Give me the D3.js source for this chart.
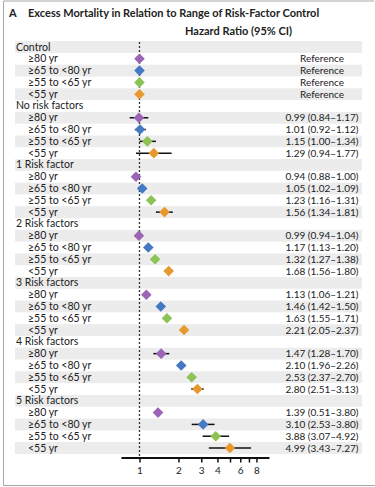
<!DOCTYPE html>
<html>
<head>
  <meta charset="utf-8">
  <title>Excess Mortality</title>
  <style>
    body { margin: 0; background: #fff; }
    svg text { font-family: Lato, "Noto Sans", sans-serif; fill: #222; }
  </style>
</head>
<body>
  <div class="area"></div>

  <script src="https://cdn.jsdelivr.net/npm/d3@7"></script>
  <script type="text/javascript">

  var w = 375, h = 487;

  var groups = ['Control', 'No risk factors', '1 Risk factor', '2 Risk factors',
                '3 Risk factors', '4 Risk factors', '5 Risk factors'];
  var ages = ['\u226580 yr', '\u226565 to <80 yr', '\u226555 to <65 yr', '<55 yr'];
  var ageColors = ['#9c64b4', '#4679c3', '#8cc354', '#e8992d'];

  // hazard ratio and 95% CI, one row per group, one column per age band
  var hr = [[1, 1, 1, 1],
            [0.99, 1.01, 1.15, 1.29],
            [0.94, 1.05, 1.23, 1.56],
            [0.99, 1.17, 1.32, 1.68],
            [1.13, 1.46, 1.63, 2.21],
            [1.47, 2.10, 2.53, 2.80],
            [1.39, 3.10, 3.88, 4.99]];
  var lo = [[null, null, null, null],
            [0.84, 0.92, 1.00, 0.94],
            [0.88, 1.02, 1.16, 1.34],
            [0.94, 1.13, 1.27, 1.56],
            [1.06, 1.42, 1.55, 2.05],
            [1.28, 1.96, 2.37, 2.51],
            [0.51, 2.53, 3.07, 3.43]];
  var hi = [[null, null, null, null],
            [1.17, 1.12, 1.34, 1.77],
            [1.00, 1.09, 1.31, 1.81],
            [1.04, 1.20, 1.38, 1.80],
            [1.21, 1.50, 1.71, 2.37],
            [1.70, 2.26, 2.70, 3.13],
            [3.80, 3.80, 4.92, 7.27]];

  var tickValues = [1, 2, 3, 4, 5, 6, 7, 8];
  var tickLabels = ['1', '2', '3', '4', '', '6', '', '8'];

  // flatten into rows: a header row per group then its four age rows
  var rows = [];
  groups.forEach(function(g, gi){
    rows.push({type: 'group', label: g});
    ages.forEach(function(a, ai){
      rows.push({type: 'age', label: a, hr: hr[gi][ai], lo: lo[gi][ai], hi: hi[gi][ai],
        color: ageColors[ai], ref: gi === 0});
    });
  });
  rows.forEach(function(r, i){ r.i = i; });

  var svg = d3.select('.area')
    .append('svg')
    .attr('width', w)
    .attr('height', h);

  var x = d3.scaleLog().domain([0.72, 10]).range([121, 269]);
  var y = d3.scaleLinear().domain([0, rows.length - 1]).range([47, 448]);
  var rowH = y(1) - y(0);

  // frame
  svg.append('path')
    .attr('d', 'M' + 374 + ',1H3.5V485.5H375')
    .attr('fill', 'none')
    .attr('stroke', '#a8a8a8')
    .attr('stroke-width', 1);

  // title
  svg.append('text').attr('x', 9).attr('y', 17)
    .style('font-weight', 'bold').style('font-size', '11px')
    .text('A');
  svg.append('text').attr('x', 28).attr('y', 17)
    .style('font-weight', 'bold').style('font-size', '11px')
    .text('Excess Mortality in Relation to Range of Risk-Factor Control');
  svg.append('text').attr('x', 185).attr('y', 35)
    .style('font-weight', 'bold').style('font-size', '11px')
    .text('Hazard Ratio (95% CI)');

  // stripes
  svg.selectAll('rect.stripe')
    .data(rows.filter(function(r){ return r.i % 2 === 0; }))
    .enter().append('rect')
    .attr('class', 'stripe')
    .attr('x', 15).attr('width', 347)
    .attr('y', function(r){ return y(r.i) - rowH / 2; })
    .attr('height', rowH)
    .attr('fill', '#ececec');

  // labels
  svg.selectAll('text.lab')
    .data(rows)
    .enter().append('text')
    .attr('class', 'lab')
    .attr('x', function(r){ return r.type === 'group' ? 16 : 28; })
    .attr('y', function(r){ return y(r.i) + 3.5; })
    .style('font-size', '10.5px')
    .text(function(r){ return r.label; });

  // value column
  var ages_rows = rows.filter(function(r){ return r.type === 'age'; });
  svg.selectAll('text.val')
    .data(ages_rows)
    .enter().append('text')
    .attr('class', 'val')
    .attr('x', 322)
    .attr('y', function(r){ return y(r.i) + 3.5; })
    .attr('text-anchor', 'middle')
    .style('font-size', '10px')
    .text(function(r){
      if(r.ref) return 'Reference';
      return r.hr.toFixed(2) + ' (' + r.lo.toFixed(2) + '\u2013' + r.hi.toFixed(2) + ')';
    });

  // reference line at 1
  svg.append('line')
    .attr('x1', x(1)).attr('x2', x(1))
    .attr('y1', 42).attr('y2', 457)
    .attr('stroke', '#333').attr('stroke-width', 1.3)
    .attr('stroke-dasharray', '2,2');

  // whiskers, only where the interval fits on the axis
  svg.selectAll('line.ci')
    .data(ages_rows.filter(function(r){ return r.lo != null && r.lo >= x.domain()[0]; }))
    .enter().append('line')
    .attr('class', 'ci')
    .attr('x1', function(r){ return x(r.lo); })
    .attr('x2', function(r){ return x(r.hi); })
    .attr('y1', function(r){ return y(r.i); })
    .attr('y2', function(r){ return y(r.i); })
    .attr('stroke', '#111').attr('stroke-width', 1.5);

  // diamonds
  var d = 5.3;
  svg.selectAll('path.pt')
    .data(ages_rows)
    .enter().append('path')
    .attr('class', 'pt')
    .attr('d', 'M0,' + (-d) + 'L' + d + ',0L0,' + d + 'L' + (-d) + ',0Z')
    .attr('transform', function(r){ return 'translate(' + x(r.hr) + ',' + y(r.i) + ')'; })
    .attr('fill', function(r){ return r.color; });

  // axis
  var axisY = 457.5;
  var axis = d3.axisBottom(x)
    .tickValues(tickValues)
    .tickFormat(function(v, i){ return tickLabels[i]; })
    .tickSize(5)
    .tickSizeOuter(0);
  var g = svg.append('g')
    .attr('transform', 'translate(0,' + axisY + ')')
    .call(axis);
  g.select('.domain').attr('stroke', '#111').attr('stroke-width', 2);
  g.selectAll('.tick line').attr('stroke', '#111').attr('stroke-width', 1.5);
  g.selectAll('.tick text')
    .attr('y', 9)
    .style('font-family', 'Lato, "Noto Sans", sans-serif')
    .style('font-size', '10px')
    .attr('fill', '#222');

  </script>
</body>
</html>
